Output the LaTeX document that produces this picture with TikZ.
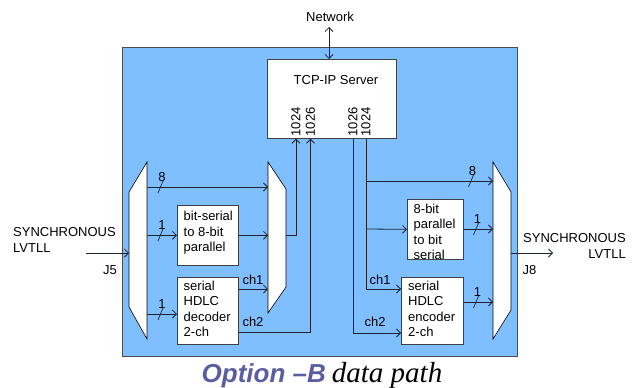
\documentclass[tikz,border=0pt]{standalone}
\usepackage{fontspec}
\setmainfont{Liberation Sans}
\newfontfamily\capserif{Liberation Serif}
\usetikzlibrary{arrows.meta,calc}
\definecolor{bgblue}{HTML}{80BFFF}
\definecolor{capcol}{HTML}{5B5DA3}
\definecolor{linecol}{HTML}{1C2430}
\newcommand\busmark[4]{%
  \draw[linecol,line width=0.7pt] (#1-2.5,#2+6) -- (#1+2.5,#2-6);
  \node[lbl] at (#1+1.5,#2-#4) {#3};}
\begin{document}
\begin{tikzpicture}[x=1pt,y=-1pt,
  txt/.style={font=\fontsize{13}{15.5}\selectfont,inner sep=0pt},
  lbl/.style={txt},
  box/.style={draw=black!75,fill=white,line width=0.7pt,inner sep=0pt,
    font=\fontsize{13}{15.5}\selectfont,align=left},
  mux/.style={draw=black,fill=white,line width=0.6pt},
  conn/.style={linecol,line width=0.8pt,-{Straight Barb[length=4pt,width=8pt,line width=0.8pt]}},
  wire/.style={linecol,line width=0.8pt}]
\useasboundingbox (0,0) rectangle (638,388);
% main blue frame
\node[draw=black!70,fill=bgblue,line width=1pt,minimum width=395pt,minimum height=309pt,inner sep=0pt,anchor=north west] (frame) at (122,47) {};
% TCP-IP server
\node[box,minimum width=129pt,minimum height=79pt,anchor=north west] (tcp) at (267,59) {};
\node[txt] (tcplbl) at (336,80) {TCP-IP Server};
\node[txt,rotate=90,anchor=west] (p1) at (296,136.5) {1024};
\node[txt,rotate=90,anchor=west] (p2) at (310.5,136.5) {1026};
\node[txt,rotate=90,anchor=west] (p3) at (353,136.5) {1026};
\node[txt,rotate=90,anchor=west] (p4) at (366,136.5) {1024};
\node[txt] (net) at (330,17) {Network};
\coordinate (netarr) at (329,27);
\draw[linecol,line width=0.8pt,{Straight Barb[length=4pt,width=8pt,line width=0.8pt]}-{Straight Barb[length=4pt,width=8pt,line width=0.8pt]}] (netarr) -- (netarr |- tcp.north);
% muxes
\draw[mux] (129,192) -- (147,162) -- (147,339) -- (129,307) -- cycle;
\draw[mux] (268,162) -- (286,189) -- (286,287) -- (268,313) -- cycle;
\draw[mux] (493,162) -- (511,192) -- (511,310) -- (493,339) -- cycle;
\coordinate (j5in) at (129,253);
\coordinate (j5out) at (147,0);
\coordinate (m2in) at (268,0);
\coordinate (m2out) at (286,235);
\coordinate (j8in) at (493,0);
\coordinate (j8out) at (511,253);
% left boxes
\node[box,minimum width=61pt,minimum height=60pt,anchor=north west] (bs) at (177,205) {};
\node[txt,align=left,anchor=north west] (bstxt) at (183.5,211) {bit-serial\\to 8-bit\\parallel};
\node[box,minimum width=61pt,minimum height=67pt,anchor=north west] (dec) at (177,277) {};
\node[txt,align=left,anchor=north west] (dectxt) at (183.5,280.5) {serial\\HDLC\\decoder\\2-ch};
% right boxes
\node[box,minimum width=56pt,minimum height=60pt,anchor=north west] (p2s) at (407,199) {};
\begin{scope}
\clip (p2s.south west) rectangle (p2s.north east);
\node[txt,align=left,anchor=north west] (p2stxt) at (413.5,203.5) {8-bit\\parallel\\to bit\\serial};
\end{scope}
\draw[draw=black!75,line width=0.7pt] (p2s.south west) rectangle (p2s.north east);
\node[box,minimum width=62pt,minimum height=67pt,anchor=north west] (enc) at (401,277) {};
\node[txt,align=left,anchor=north west] (enctxt) at (408,280.5) {serial\\HDLC\\encoder\\2-ch};
% left side connectors
\coordinate (inL) at (86,253);
\draw[conn] (inL) -- (j5in);
\draw[conn] (j5out |- 0,187) -- (m2in |- 0,187);
\busmark{160.5}{187}{8}{10}
\draw[conn] (j5out |- bs.west) -- (bs.west);
\busmark{160.5}{235}{1}{10}
\draw[conn] (j5out |- 0,314) -- (dec.west |- 0,314);
\busmark{160.5}{314}{1}{10}
\draw[conn] (bs.east) -- (m2in |- bs.east);
\draw[conn] (dec.east |- 0,289) -- (m2in |- 0,289);
\node[lbl] (ch1a) at (253,280) {ch1};
\draw[conn] (m2out) -| (p1.west |- tcp.south);
\draw[conn] (dec.east |- 0,332) -| (p2.west |- tcp.south);
\node[lbl] (ch2a) at (253,322) {ch2};
% right side connectors
\draw[wire] (p4.west |- tcp.south) -- (366,289);
\draw[conn] (366,289) -- (enc.west |- 0,289);
\node[lbl] (ch1b) at (380,280) {ch1};
\draw[conn] (366,181) -- (j8in |- 0,181);
\busmark{471}{181}{8}{10}
\draw[conn] (366,229) -- (p2s.west);
\draw[wire] (p3.west |- tcp.south) -- (353,333);
\draw[conn] (353,333) -- (enc.west |- 0,333);
\node[lbl] (ch2b) at (375,322) {ch2};
\draw[conn] (p2s.east |- 0,229) -- (j8in |- 0,229);
\busmark{476}{229}{1}{10}
\draw[conn] (enc.east |- 0,302) -- (j8in |- 0,302);
\busmark{476}{302}{1}{10}
\coordinate (outR) at (553,253);
\draw[conn] (j8out) -- (outR);
% io labels
\node[txt,align=left,anchor=north west] (synL) at (13,227.5) {SYNCHRONOUS\\LVTLL};
\node[txt] (j5) at (110,270) {J5};
\node[txt,align=right,anchor=north east] (synR) at (626,233.5) {SYNCHRONOUS\\LVTLL};
\node[txt] (j8) at (529.5,270) {J8};
% caption
\node[inner sep=0pt,anchor=base] (cap) at (322,382) {{\color{capcol}\fontsize{26}{30}\selectfont\bfseries\itshape Option –B}\hspace{6pt}{\capserif\fontsize{29}{32}\selectfont\itshape data path}};
\end{tikzpicture}
\end{document}
